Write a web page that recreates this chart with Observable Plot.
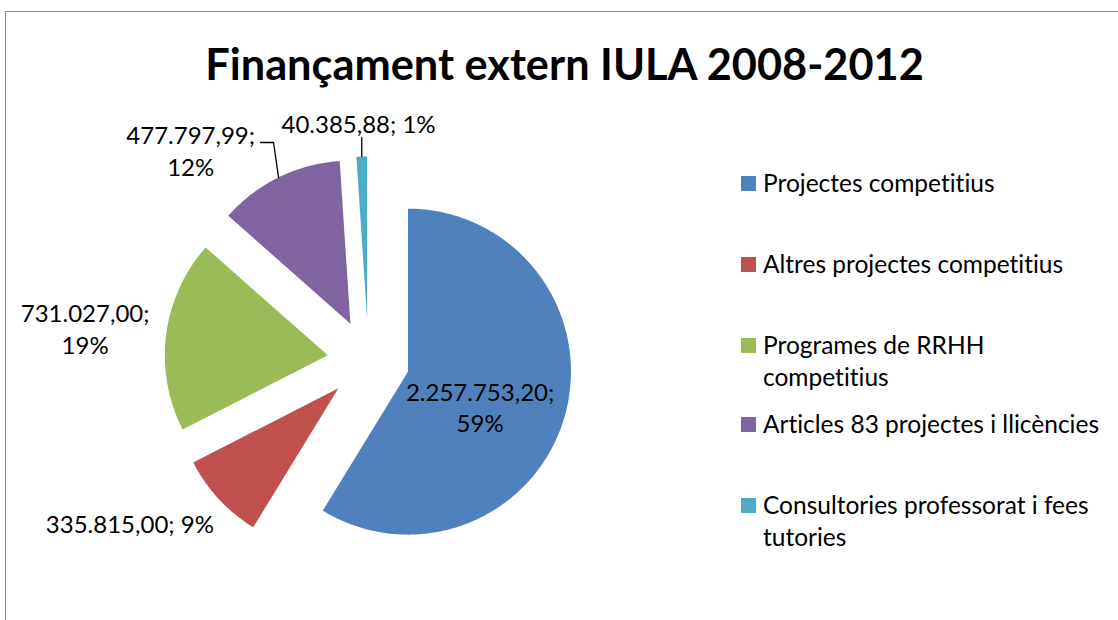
<!DOCTYPE html>
<html>
<head>
<meta charset="utf-8">
<script src="https://cdn.jsdelivr.net/npm/d3@7"></script>
<script src="https://cdn.jsdelivr.net/npm/@observablehq/plot@0.6"></script>
<style>
  body { margin: 0; background: #fff; }
  #wrap { position: relative; width: 1118px; height: 620px; overflow: hidden; font-family: Lato, "Open Sans", sans-serif; color: #000; font-variant-ligatures: none; font-feature-settings: "liga" 0, "clig" 0; }
  #frame { position: absolute; left: 5px; top: 11px; width: 1200px; height: 700px; border: 1.5px solid #8c8c8c; box-sizing: border-box; }
  #chart { position: absolute; left: 0; top: 0; }
  #title { position: absolute; left: 0; top: 35px; width: 1129px; text-align: center; font-weight: 700; font-size: 43.3px; line-height: 56px; white-space: nowrap; }
  .lg { position: absolute; left: 741px; }
  .lg .sw { position: absolute; left: 0; width: 15px; height: 15px; }
  .lg .tx { position: absolute; left: 22px; width: 342px; font-size: 24.5px; line-height: 32px; }
</style>
</head>
<body>
<div id="wrap">
  <div id="frame"></div>
  <div id="chart"></div>
  <div id="title"></div>
  <div id="legendBox"></div>
</div>
<script>
// ---- data ----
const title = "Finançament extern IULA 2008-2012";
const categories = [
  "Projectes competitius",
  "Altres projectes competitius",
  "Programes de RRHH competitius",
  "Articles 83 projectes i llicències",
  "Consultories professorat i fees tutories"
];
const values = [2257753.20, 335815.00, 731027.00, 477797.99, 40385.88];
const colors = ["#4F81BD", "#C0504D", "#9BBB59", "#8064A2", "#4BACC6"];

// ---- layout (pixels) ----
const W = 1118, H = 620;
const cx = 368, cy = 360;      // pie centre
const R = 163;                 // slice radius
const explode = 41;            // explosion offset
// label placement: polar angle (deg, clockwise from north) and distance (in radii) from pie centre
const labelAngle = [112.3, 235.8, 276.6, 319.8, 357.6];
const labelDist  = [0.74, 1.77, 1.75, 1.69, 1.46];
const labelWrap  = [true, false, true, true, false];
const legendY    = [183, 264, 345, 424, 505];

const loc = d3.formatLocale({decimal: ",", thousands: ".", grouping: [3], currency: ["", ""]});
const fmt = loc.format(",.2f");
const total = d3.sum(values);

const arcs = d3.pie().sort(null).value(d => d)(values);
const rad = a => a * Math.PI / 180;

const slicePts = [];
const labels = [];
const leaders = [];
arcs.forEach((a, i) => {
  const m = (a.startAngle + a.endAngle) / 2;
  const ox = cx + explode * Math.sin(m), oy = cy - explode * Math.cos(m);
  slicePts.push({name: categories[i], x: ox, y: oy});
  const n = Math.max(2, Math.ceil((a.endAngle - a.startAngle) / 0.01));
  for (let k = 0; k <= n; k++) {
    const t = a.startAngle + (a.endAngle - a.startAngle) * k / n;
    slicePts.push({name: categories[i], x: ox + R * Math.sin(t), y: oy - R * Math.cos(t)});
  }
  const pct = Math.round(values[i] / total * 100) + "%";
  const txt = fmt(values[i]) + ";" + (labelWrap[i] ? "\n" : " ") + pct;
  const la = rad(labelAngle[i]);
  labels.push({text: txt, x: cx + labelDist[i] * R * Math.sin(la), y: cy - labelDist[i] * R * Math.cos(la)});
  // outer edge point at the middle of the slice (for leader lines)
  leaders.push({x: cx + (R + explode) * Math.sin(m), y: cy - (R + explode) * Math.cos(m)});
});

// leader lines for the two small top slices
const leaderLines = [
  {id: "p", x: leaders[3].x, y: leaders[3].y},
  {id: "p", x: leaders[3].x - 5, y: 142},
  {id: "p", x: 260, y: 142},
  {id: "c", x: leaders[4].x, y: leaders[4].y},
  {id: "c", x: leaders[4].x, y: 137}
];

const plot = Plot.plot({
  width: W, height: H,
  margin: 0,
  x: {domain: [0, W], range: [0, W], axis: null},
  y: {domain: [0, H], range: [0, H], axis: null},
  color: {domain: categories, range: colors},
  style: {background: "transparent", fontFamily: "Lato, 'Open Sans', sans-serif"},
  marks: [
    Plot.line(slicePts, {x: "x", y: "y", z: "name", fill: "name", stroke: "none", curve: "linear-closed"}),
    Plot.line(leaderLines, {x: "x", y: "y", z: "id", stroke: "#000", strokeWidth: 1.3}),
    Plot.text(labels, {x: "x", y: "y", text: "text", fontSize: 24, lineHeight: 1.33, fill: "#000", textAnchor: "middle", lineAnchor: "middle"})
  ]
});
document.getElementById("chart").appendChild(plot);
document.getElementById("title").textContent = title;

const lb = document.getElementById("legendBox");
categories.forEach((c, i) => {
  const d = document.createElement("div");
  d.className = "lg";
  d.style.top = (legendY[i] - 16) + "px";
  d.innerHTML = `<div class="sw" style="top:8.5px;background:${colors[i]}"></div><div class="tx"></div>`;
  d.querySelector(".tx").textContent = c;
  lb.appendChild(d);
});
</script>
</body>
</html>
